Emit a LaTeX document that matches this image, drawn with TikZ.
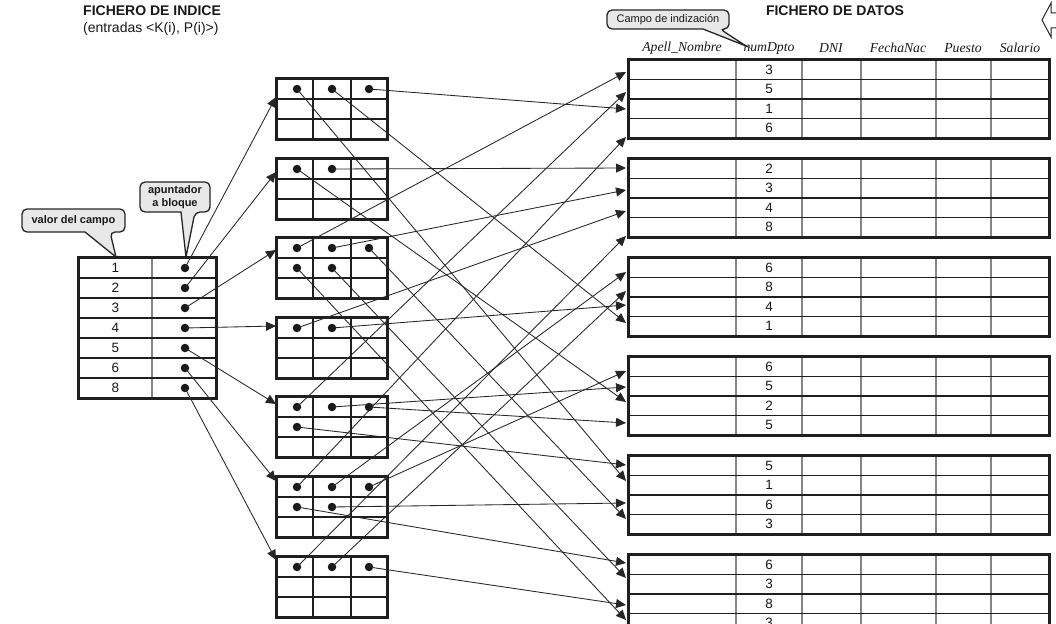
\documentclass[tikz,border=0pt]{standalone}
\usepackage{fontspec}
\setmainfont{Liberation Sans}
\newfontfamily\serifit{Liberation Serif}
\usetikzlibrary{arrows.meta,calc}
\begin{document}
\begin{tikzpicture}[x=1pt,y=-1pt,
  every node/.style={inner sep=0pt, text=black!90},
  num/.style={font=\fontsize{13.5}{14}\selectfont},
  hdr/.style={font=\serifit\itshape\fontsize{13.7}{15}\selectfont},
  ttl/.style={font=\bfseries\fontsize{14}{16}\selectfont},
  sub/.style={font=\fontsize{14}{16}\selectfont},
  blkframe/.style={draw=black!88, line width=2.8pt},
  rowl/.style={draw=black!88, line width=1.9pt},
  coll/.style={draw=black!48, line width=2.2pt},
  dot/.style={circle, fill=black!90, minimum size=8.5pt},
  arr/.style={draw=black!85, line width=0.85pt, -{Triangle[length=10pt,width=9pt]}},
  callout/.style={draw=black!85, line width=1.3pt, fill=black!9},
  ctext/.style={font=\bfseries\fontsize{11}{12.5}\selectfont},
  ctextn/.style={font=\fontsize{11}{12.5}\selectfont}]
\useasboundingbox (0,0) rectangle (1056,623);
\clip (0,0) rectangle (1056,623);
\fill[white] (0,0) rectangle (1056,623);

% titles
\node[ttl, anchor=west] (t1) at (83,11) {FICHERO DE INDICE};
\node[sub, anchor=west] (t2) at (83,29) {(entradas <K(i), P(i)>)};
\node[ttl] (t3) at (835,11) {FICHERO DE DATOS};

% top-right outline arrow
\draw[draw=black!85, line width=1pt, fill=white] (1058,13) -- (1051,13) -- (1051,3) -- (1042,20) -- (1051,37) -- (1051,28) -- (1058,28);

% headers
\node[hdr] (h1) at (682,48) {Apell\_Nombre};
\node[hdr] (h2) at (769,48) {numDpto};
\node[hdr] (h3) at (831,48) {DNI};
\node[hdr] (h4) at (898,48) {FechaNac};
\node[hdr] (h5) at (963,48) {Puesto};
\node[hdr] (h6) at (1020,48) {Salario};

% callouts
\draw[callout] (22,220) [rounded corners=5pt] -- (22,209) -- (125,209) -- (125,232) -- (110,232) [sharp corners] -- (116,257) -- (85,232) [rounded corners=5pt] -- (22,232) -- cycle;
\node[ctext] (c1) at (73.5,220.5) {valor del campo};
\draw[callout] (140,197) [rounded corners=5pt] -- (140,182) -- (210,182) -- (210,212) -- (195,212) [sharp corners] -- (186,257) -- (181,212) [rounded corners=5pt] -- (140,212) -- cycle;
\node[ctext, align=center] (c2) at (175,197) {apuntador\\a bloque};
\draw[callout] (607,19) [rounded corners=5pt] -- (607,10) -- (729,10) -- (729,29) -- (720,29) [sharp corners] -- (746,46) -- (703,29) [rounded corners=5pt] -- (607,29) -- cycle;
\node[ctextn] (c3) at (668,19.5) {Campo de indización};

% index table
\node[fill=white, minimum width=137pt, minimum height=140pt] (idx) at (147.5,328) {};
\draw[coll] (152,258) -- (152,398);
\foreach \ry in {278,298,318,338,358,378} \draw[rowl] (79,\ry) -- (216,\ry);
\draw[blkframe] (idx.north west) rectangle (idx.south east);
\foreach \k/\v in {1/1,2/2,3/3,4/4,5/5,6/6,7/8} {
  \node[num] (v\k) at (115.5,248+20*\k) {\v};
  \node[dot] (i\k) at (185,248+20*\k) {};
}

% data blocks
\foreach \n/\t/\a/\b/\c/\d in {A/60/3/5/1/6, B/159/2/3/4/8, C/258/6/8/4/1, D/357/6/5/2/5, E/456/5/1/6/3, F/555/6/3/8/3}{
  \node[fill=white, minimum width=420pt, minimum height=78pt] (\n) at (839,\t+39) {};
  \foreach \cx in {736,802,861,936,991} \draw[coll] (\cx,\t) -- (\cx,\t+78);
  \foreach \ry in {19.5,39,58.5} \draw[rowl] (629,\t+\ry) -- (1049,\t+\ry);
  \draw[blkframe] (\n.north west) rectangle (\n.south east);
  \node[num] (\n r1) at (769,\t+9.75) {\a};
  \node[num] (\n r2) at (769,\t+29.25) {\b};
  \node[num] (\n r3) at (769,\t+48.75) {\c};
  \node[num] (\n r4) at (769,\t+68.25) {\d};
}

% bucket blocks
\foreach \n/\t in {K1/79,K2/159,K3/238,K4/318,K5/397,K6/477,K7/557}{
  \node[fill=white, minimum width=110pt, minimum height=60pt] (\n) at (332,\t+30) {};
  \foreach \cx in {313,351} \draw[rowl] (\cx,\t) -- (\cx,\t+60);
  \foreach \ry in {20,40} \draw[rowl] (277,\t+\ry) -- (387,\t+\ry);
  \draw[blkframe] (\n.north west) rectangle (\n.south east);
}

% bucket dots
\foreach \nm/\x/\y in {d1a/297/89, d1b/332/89, d1c/369/89,
  d2a/297/169, d2b/332/169,
  d3a/297/248, d3b/332/248, d3c/369/248, d3d/297/268, d3e/332/268,
  d4a/297/328, d4b/332/328,
  d5a/297/407, d5b/332/407, d5c/369/407, d5d/297/427,
  d6a/297/487, d6b/332/487, d6c/369/487, d6d/297/507, d6e/332/507,
  d7a/297/567, d7b/332/567, d7c/369/567}
  \node[dot] (\nm) at (\x,\y) {};

% arrow tips at data blocks
\foreach \nm/\y in {tA1/72, tA2/92, tA3/109, tA4/137,
  tB1/168, tB2/190, tB3/211, tB4/236,
  tC1/272, tC2/291, tC3/305, tC4/323,
  tD1/371, tD2/387, tD3/402, tD4/423,
  tE1/465, tE2/481, tE3/503, tE4/519,
  tF1/563, tF2/578, tF3/605, tF4/620}
  \coordinate (\nm) at (626,\y);

% arrow tips at buckets
\foreach \nm/\y in {p1/97, p2/172, p3/250, p4/326, p5/404, p6/481, p7/560}
  \coordinate (\nm) at (276,\y);

% index -> buckets
\foreach \s/\e in {i1/p1, i2/p2, i3/p3, i4/p4, i5/p5, i6/p6, i7/p7}
  \draw[arr] (\s.center) -- (\e);

% buckets -> data records
\foreach \s/\e in {d3a/tA1, d5a/tA2, d1c/tA3, d6a/tA4,
  d2b/tB1, d3b/tB2, d4a/tB3, d7a/tB4,
  d6b/tC1, d7b/tC2, d4b/tC3, d1b/tC4,
  d6c/tD1, d5b/tD2, d2a/tD3, d5c/tD4,
  d5d/tE1, d1a/tE2, d6e/tE3, d3c/tE4,
  d6d/tF1, d3e/tF2, d7c/tF3, d3d/tF4}
  \draw[arr] (\s.center) -- (\e);
\end{tikzpicture}
\end{document}
